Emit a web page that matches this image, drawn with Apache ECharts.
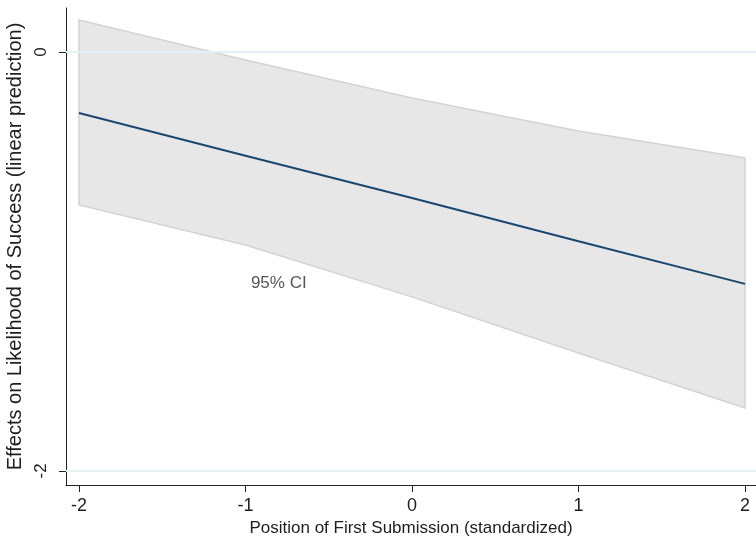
<!DOCTYPE html>
<html>
<head>
<meta charset="utf-8">
<script src="https://cdn.jsdelivr.net/npm/echarts@6/dist/echarts.min.js"></script>
<style>
  html, body { margin: 0; padding: 0; background: #fff; }
  #chart { width: 756px; height: 540px; }
</style>
</head>
<body>
<div id="chart"></div>
<script>
// Predicted effect of the standardized position of the first submission
const xValues = [-2, -1, 0, 1, 2];
const fitted = [-0.291, -0.495, -0.697, -0.903, -1.107];
const ciUpper = [0.153, -0.038, -0.220, -0.377, -0.506];
const ciLower = [-0.730, -0.921, -1.169, -1.437, -1.699];
const xTicks = [-2, -1, 0, 1, 2];
const yTicks = [-2, 0];
const ciLabel = '95% CI';
const ciLabelAt = [-0.80, -1.103];

const FONT = 'Liberation Sans, Arial, sans-serif';
const TEXT = '#1e1e1e';

const chart = echarts.init(document.getElementById('chart'), null, { renderer: 'canvas' });

const bandData = xValues.map((x, i) => [x, ciLower[i], ciUpper[i]]);

chart.setOption({
  animation: false,
  backgroundColor: '#ffffff',
  grid: { left: 66, right: 0, top: 8, bottom: 55, containLabel: false, outerBoundsMode: 'none' },
  xAxis: {
    type: 'value',
    min: -2.078,
    max: 2.066,
    name: 'Position of First Submission (standardized)',
    nameLocation: 'middle',
    nameGap: 28,
    nameTextStyle: { fontFamily: FONT, fontSize: 17, color: TEXT },
    axisLine: { show: true, onZero: false, lineStyle: { color: '#222', width: 1 } },
    axisTick: { show: true, length: 7, customValues: xTicks, lineStyle: { color: '#222' } },
    axisLabel: { customValues: xTicks, fontFamily: FONT, fontSize: 18, color: TEXT, margin: 12 },
    splitLine: { show: false }
  },
  yAxis: {
    type: 'value',
    min: -2.067,
    max: 0.21,
    name: 'Effects on Likelihood of Success (linear prediction)',
    nameLocation: 'middle',
    nameGap: 36,
    nameTextStyle: { fontFamily: FONT, fontSize: 20, color: TEXT },
    axisLine: { show: true, onZero: false, lineStyle: { color: '#222', width: 1 } },
    axisTick: { show: true, length: 7, customValues: yTicks, lineStyle: { color: '#222' } },
    axisLabel: { customValues: yTicks, rotate: 90, fontFamily: FONT, fontSize: 17, color: TEXT, margin: 16 },
    splitLine: { show: false }
  },
  series: [
    {
      // horizontal reference lines at the labelled y ticks
      type: 'line',
      data: [],
      z: 1,
      silent: true,
      markLine: {
        silent: true,
        symbol: 'none',
        label: { show: false },
        lineStyle: { color: '#e6eff1', width: 2, type: 'solid' },
        data: yTicks.map(v => ({ yAxis: v }))
      }
    },
    {
      // confidence band drawn as a single polygon
      type: 'custom',
      z: 2,
      silent: true,
      data: bandData,
      encode: { x: 0, y: [1, 2] },
      renderItem: function (params, api) {
        if (params.dataIndex !== 0) return null;
        const top = xValues.map((x, i) => api.coord([x, ciUpper[i]]));
        const bottom = xValues.map((x, i) => api.coord([x, ciLower[i]])).reverse();
        return {
          type: 'polygon',
          shape: { points: top.concat(bottom) },
          style: { fill: '#e7e7e7', stroke: '#d3d3d3', lineWidth: 1.5 }
        };
      }
    },
    {
      type: 'line',
      z: 3,
      data: xValues.map((x, i) => [x, fitted[i]]),
      symbol: 'none',
      lineStyle: { color: '#1a476f', width: 2 }
    },
    {
      type: 'scatter',
      z: 4,
      silent: true,
      symbolSize: 0,
      data: [ciLabelAt],
      label: {
        show: true,
        position: 'inside',
        formatter: ciLabel,
        fontFamily: FONT,
        fontSize: 17,
        color: '#2a2a2a',
        textBorderWidth: 0
      }
    }
  ]
});
</script>
</body>
</html>
